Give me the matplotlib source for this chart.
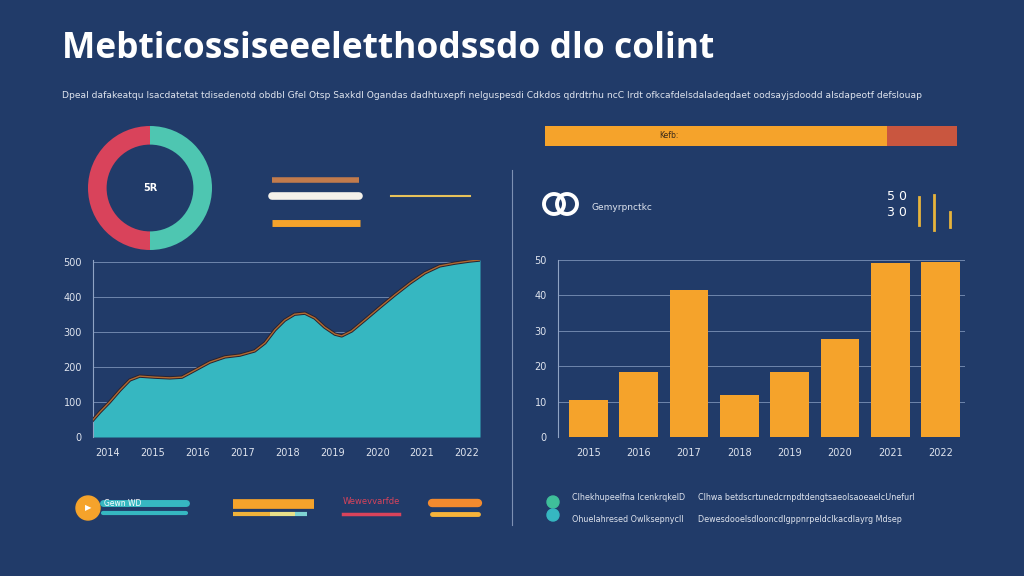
import matplotlib.pyplot as plt
from matplotlib.patches import Circle

BG = "#213b69"
TXT = "#dfe4ee"
TEAL = "#36b7c1"
ORANGE = "#f5a32b"
RED = "#d9435b"

title = "Mebticossiseeeletthodssdo dlo colint"
subtitle = ("Dpeal dafakeatqu lsacdatetat tdisedenotd obdbl Gfel Otsp Saxkdl Ogandas"
            " dadhtuxepfi nelguspesdi Cdkdos qdrdtrhu ncC lrdt ofkcafdelsdaladeqdaet "
            "oodsayjsdoodd alsdapeotf defslouap")

# donut + progress
donut_values = [50, 50]
progress_values = [83, 17]

# area chart
area_x = [-0.33, -0.18, 0.04, 0.27, 0.49, 0.71, 1.05, 1.38, 1.65, 1.94, 2.27,
          2.61, 2.94, 3.27, 3.50, 3.72, 3.94, 4.16, 4.39, 4.61, 4.83, 5.06,
          5.21, 5.43, 5.72, 6.06, 6.39, 6.73, 7.06, 7.39, 7.73, 8.06, 8.29]
area_y = [49, 71, 100, 134, 163, 174, 171, 169, 171, 191, 214,
          229, 234, 246, 269, 306, 334, 351, 354, 340, 314, 294,
          289, 303, 334, 371, 406, 440, 469, 489, 497, 503, 506]
area_labels = ["2014", "2015", "2016", "2017", "2018", "2019", "2020", "2021", "2022"]
area_ticks = [0, 100, 200, 300, 400, 500]

# bar chart
bar_labels = ["2015", "2016", "2017", "2018", "2019", "2020", "2021", "2022"]
bar_values = [10.5, 18.4, 41.5, 11.9, 18.4, 27.7, 49.2, 49.4]
bar_ticks = [0, 10, 20, 30, 40, 50]

W, H = 1024, 576


def px_axes(fig, x0, y0, x1, y1):
    """Axes from pixel box (top-left origin)."""
    return fig.add_axes([x0 / W, (H - y1) / H, (x1 - x0) / W, (y1 - y0) / H])


def style_axes(ax):
    ax.set_facecolor("none")
    for s in ["top", "right", "bottom"]:
        ax.spines[s].set_visible(False)
    ax.spines["left"].set_color("#8fa3c4")
    ax.spines["left"].set_linewidth(0.8)
    ax.tick_params(colors=TXT, labelsize=7, length=0, pad=8)
    ax.yaxis.grid(True, color="#6f86ad", linewidth=0.7)
    ax.set_axisbelow(True)


def draw_overlay(fig):
    ov = fig.add_axes([0, 0, 1, 1])
    ov.set_xlim(0, W)
    ov.set_ylim(H, 0)
    ov.axis("off")

    ov.text(62, 49, title, color="white", fontsize=25.5, fontweight="bold",
            family="Open Sans", va="center")
    ov.text(62, 95, subtitle, color=TXT, fontsize=6.6, va="center")

    # swatches beside donut
    ov.plot([272, 359], [180, 180], color="#c27b4c", lw=4, solid_capstyle="butt")
    ov.plot([272, 359], [196, 196], color="#f4f1ea", lw=5.5, solid_capstyle="round")
    ov.plot([272, 360], [223, 223], color=ORANGE, lw=5, solid_capstyle="butt")
    ov.plot([391, 470], [196, 196], color="#e7c25a", lw=1.5)

    # divider
    ov.plot([512, 512], [170, 525], color="#7d90b3", lw=0.8)

    # right header row
    ov.add_patch(Circle((554, 204), 10, fill=False, ec="white", lw=2.8))
    ov.add_patch(Circle((567, 204), 10, fill=False, ec="white", lw=2.8))
    ov.text(592, 207, "Gemyrpnctkc", color=TXT, fontsize=6.5, va="center")
    ov.text(897, 196, "5 0", color="white", fontsize=9, ha="center", va="center")
    ov.text(897, 212, "3 0", color="white", fontsize=9, ha="center", va="center")
    ov.plot([919, 919], [197, 225], color="#e7b43c", lw=2)
    ov.plot([934, 934], [195, 230], color="#e7b43c", lw=2)
    ov.plot([950, 950], [212, 227], color="#e7b43c", lw=2)

    # bottom-left legend
    ov.add_patch(Circle((88, 508), 12, color=ORANGE))
    ov.text(88, 508, "\u25b6", color="white", fontsize=6, ha="center", va="center")
    ov.plot([103, 186], [503, 503], color=TEAL, lw=5, solid_capstyle="round")
    ov.text(104, 503, "Gewn WD", color="white", fontsize=5.5, va="center")
    ov.plot([103, 186], [513, 513], color=TEAL, lw=3, solid_capstyle="round")

    ov.plot([233, 314], [504, 504], color=ORANGE, lw=7, solid_capstyle="butt")
    ov.plot([233, 270], [514, 514], color="#f0b23a", lw=3, solid_capstyle="butt")
    ov.plot([270, 295], [514, 514], color="#e8e08a", lw=3, solid_capstyle="butt")
    ov.plot([295, 307], [514, 514], color="#7fd3d3", lw=3, solid_capstyle="butt")

    ov.text(343, 501, "Wewevvarfde", color=RED, fontsize=6, va="center")
    ov.plot([343, 399], [514, 514], color=RED, lw=2.5)

    ov.plot([432, 478], [503, 503], color="#f28a2e", lw=6, solid_capstyle="round")
    ov.plot([432, 478], [514, 514], color="#f7b43a", lw=3.5, solid_capstyle="round")

    # bottom-right legend
    ov.add_patch(Circle((553, 502), 6, color="#3fbf9a"))
    ov.add_patch(Circle((553, 515), 6, color=TEAL))
    ov.text(572, 498, "Clhekhupeelfna lcenkrqkelD", color=TXT, fontsize=5.8, va="center")
    ov.text(572, 520, "Ohuelahresed Owlksepnycll", color=TXT, fontsize=5.8, va="center")
    ov.text(698, 498, "Clhwa betdscrtunedcrnpdtdengtsaeolsaoeaelcUnefurl",
            color=TXT, fontsize=5.8, va="center")
    ov.text(698, 520, "Dewesdooelsdlooncdlgppnrpeldclkacdlayrg Mdsep",
            color=TXT, fontsize=5.8, va="center")


def draw_donut(fig):
    ax = px_axes(fig, 88, 126, 212, 250)
    ax.pie(donut_values, colors=[RED, "#4ec6b1"], startangle=90,
           counterclock=True, wedgeprops=dict(width=0.3, edgecolor="none"))
    ax.set_xlim(-1.0, 1.0)
    ax.set_ylim(-1.0, 1.0)
    ax.text(0, 0, "5R", color="white", fontsize=7, fontweight="bold",
            ha="center", va="center")
    ax.set_aspect("equal")


def draw_progress(fig):
    ax = px_axes(fig, 545, 126, 957, 146)
    ax.barh([0], [progress_values[0]], color=ORANGE, height=1)
    ax.barh([0], [progress_values[1]], left=[progress_values[0]],
            color="#c9563f", height=1)
    ax.set_xlim(0, sum(progress_values))
    ax.set_ylim(-0.5, 0.5)
    ax.axis("off")
    ax.text(30, 0, "Kefb:", color="#3a2a1a", fontsize=5.5, ha="center", va="center")


def draw_area(fig):
    ax = px_axes(fig, 93, 260, 480, 437)
    style_axes(ax)
    ax.fill_between(area_x, area_y, 0, color=TEAL, lw=0, zorder=2)
    ax.plot(area_x, area_y, color="#2a2230", lw=2.4, zorder=3)
    ax.plot(area_x, area_y, color="#b06a30", lw=1.0, zorder=4)
    ax.set_xlim(-0.33, 8.29)
    ax.set_ylim(0, 506)
    ax.set_yticks(area_ticks)
    ax.set_xticks(range(len(area_labels)))
    ax.set_xticklabels(area_labels)


def draw_bars(fig):
    ax = px_axes(fig, 558, 260, 965, 437)
    style_axes(ax)
    ax.bar(range(len(bar_values)), bar_values, width=0.77, color=ORANGE, zorder=2)
    ax.set_xlim(-0.6, 7.48)
    ax.set_ylim(0, 50)
    ax.set_yticks(bar_ticks)
    ax.set_xticks(range(len(bar_labels)))
    ax.set_xticklabels(bar_labels)


def main():
    fig = plt.figure(figsize=(W / 100, H / 100), dpi=100, facecolor=BG)
    draw_overlay(fig)
    draw_donut(fig)
    draw_progress(fig)
    draw_area(fig)
    draw_bars(fig)
    fig.savefig("out.png", facecolor=BG)
    plt.close(fig)


if __name__ == "__main__":
    main()
